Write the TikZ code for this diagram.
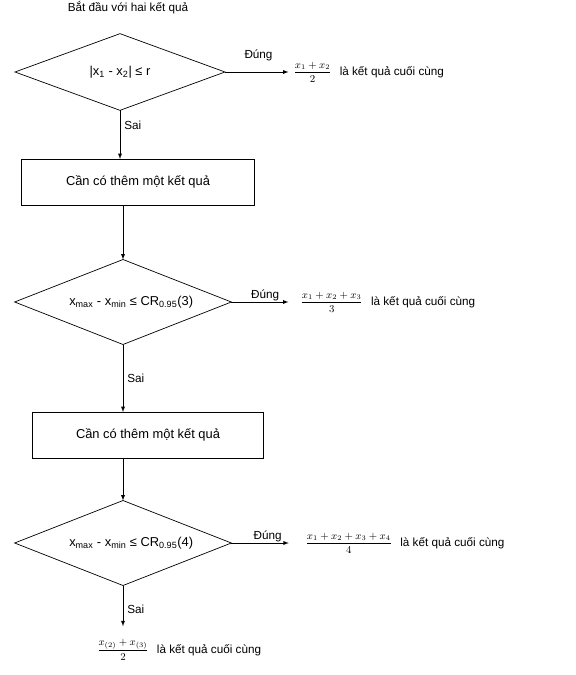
\documentclass[tikz,border=0pt]{standalone}
\usepackage{amsmath}
\usepackage{fontspec}
\setmainfont{Liberation Sans}
\usetikzlibrary{shapes.geometric}

\begin{document}
\begin{tikzpicture}[x=0.03cm, y=-0.03cm, >=latex, line width=0.6pt, every node/.style={font=\fontsize{10}{12}\selectfont},
	test/.style={draw, diamond, aspect=2.5, inner sep=0pt, outer sep=0pt, minimum width=6.5cm, minimum height=2.55cm, font=\fontsize{11}{13}\selectfont},
	stepbox/.style={draw, rectangle, inner sep=0pt, outer sep=0pt, minimum width=7cm, minimum height=1.38cm, font=\fontsize{11}{13}\selectfont},
	res/.style={inner sep=1pt, font=\fontsize{9}{11}\selectfont, label={[label distance=2pt]right:là kết quả cuối cùng}}]
	\useasboundingbox (0,0) rectangle (575,675);
	\node (start) at (128,8) {Bắt đầu với hai kết quả};
	\node[test, minimum width=6.3cm, minimum height=2.3cm] (d1) at (120,72) {|x\textsubscript{1} - x\textsubscript{2}| ≤ r};
	\node[res, anchor=west] (r1) at (292,72) {$\dfrac{x_1+x_2}{2}$};
	\node[stepbox] (b1) at (138,182) {Cần có thêm một kết quả};
	\node[test] (d2) at (123,302) {\hspace{14pt}x\textsubscript{max} - x\textsubscript{min} ≤ CR\textsubscript{0.95}(3)};
	\node[res, anchor=west] (r2) at (299,302) {$\dfrac{x_1+x_2+x_3}{3}$};
	\node[stepbox, minimum width=6.93cm] (b2) at (148,435) {Cần có thêm một kết quả};
	\node[test] (d3) at (123,543) {\hspace{14pt}x\textsubscript{max} - x\textsubscript{min} ≤ CR\textsubscript{0.95}(4)};
	\node[res, anchor=west] (r3) at (304,543) {$\dfrac{x_1+x_2+x_3+x_4}{4}$};
	\node[res] (r4) at (123,650) {$\dfrac{x_{(2)}+x_{(3)}}{2}$};
	% true branches
	\draw[->, shorten >=3pt] (d1.east) -- node[above=6pt] {Đúng} (r1.west);
	\foreach \d/\r/\s in {d2/r2/9pt, d3/r3/13pt} {\draw[->, shorten >=\s] (\d.east) -- node[above, inner sep=1pt] {Đúng} (\r.west);}
	% false branches and steps
	\draw[->] (d1.south) -- node[right, pos=0.3] {Sai} (d1.south |- b1.north);
	\draw[->] (b1.south -| d2.north) -- (d2.north);
	\draw[->] (d2.south) -- node[right] {Sai} (d2.south |- b2.north);
	\draw[->] (b2.south -| d3.north) -- (d3.north);
	\draw[->, shorten >=10pt] (d3.south) -- node[right, pos=0.45] {Sai} (r4.north);
\end{tikzpicture}
\end{document}
